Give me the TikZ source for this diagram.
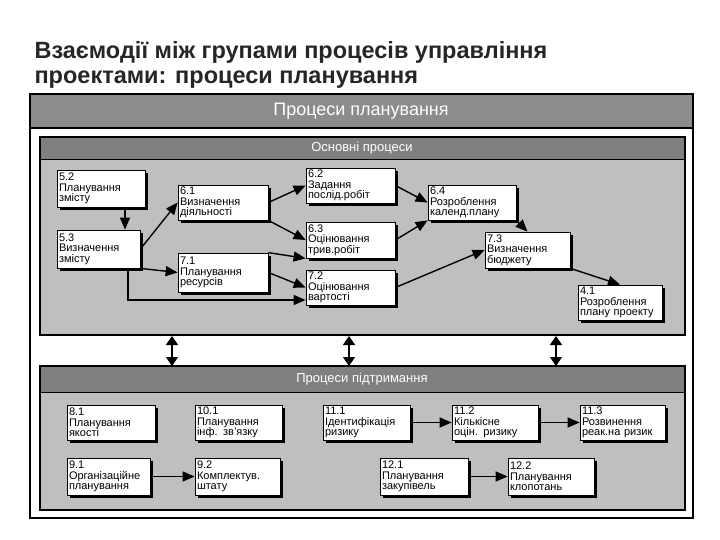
\documentclass[tikz,border=0pt]{standalone}
\usepackage{fontspec}
\setmainfont{Liberation Sans}
\usetikzlibrary{shadows,arrows.meta}
\begin{document}
\begin{tikzpicture}[x=1pt,y=-1pt,
 box/.style={draw=black,line width=0.8pt,fill=white,align=left,inner sep=2pt,font=\fontsize{11}{10.5}\selectfont,
   drop shadow={shadow xshift=3pt,shadow yshift=-3pt,fill=black,opacity=1}},
 arr/.style={line width=1.4pt,-{Triangle[length=12pt,width=10pt]}},
 darr/.style={line width=1.5pt,{Triangle[length=9pt,width=12pt]}-{Triangle[length=9pt,width=12pt]}},
 hdr/.style={text=white}]
\useasboundingbox (0,0) rectangle (720,540);
\fill[white] (0,0) rectangle (720,540);
\node[anchor=west,font=\bfseries\fontsize{23.5}{23.5}\selectfont,text=black!85] (t1) at (31,52) {Взаємодії між групами процесів управління};
\node[anchor=west,font=\bfseries\fontsize{23.5}{23.5}\selectfont,text=black!85] (t2) at (31,80) {проектами: процеси планування};
% outer frame
\draw[line width=1.2pt,fill=white] (30,94) rectangle (693,518);
\fill[black!45] (30,94) rectangle (693,128);
\draw[line width=1.2pt] (30,94) rectangle (693,128);
\node[hdr,font=\fontsize{18}{18}\selectfont] (h0) at (361,111) {Процеси планування};
% main panel
\draw[line width=1.5pt,fill=black!25] (40,137) rectangle (685,335);
\fill[black!50] (40,137) rectangle (685,160);
\draw[line width=1.5pt] (40,137) rectangle (685,335);
\draw[line width=1pt] (40,160) -- (685,160);
\node[hdr,font=\fontsize{13}{13}\selectfont] (h1) at (362,148.5) {Основні процеси};
% support panel
\draw[line width=1.5pt,fill=black!25] (40,366) rectangle (685,510);
\fill[black!50] (40,366) rectangle (685,392);
\draw[line width=1.5pt] (40,366) rectangle (685,510);
\draw[line width=1pt] (40,392) -- (685,392);
\node[hdr,font=\fontsize{13}{13}\selectfont] (h2) at (362,379) {Процеси підтримання};
% main nodes
\node[box,text width=84pt,minimum height=37pt] (a52) at (101,188.5) {5.2\\Планування\\змісту};
\node[box,text width=79pt,minimum height=38pt] (a53) at (98.5,249) {5.3\\Визначення\\змісту};
\node[box,text width=86pt,minimum height=35pt] (a61) at (223,202.5) {6.1\\Визначення\\діяльності};
\node[box,text width=86pt,minimum height=39pt] (a71) at (223,272.5) {7.1\\Планування\\ресурсів};
\node[box,text width=85pt,minimum height=35pt] (a62) at (350.5,185.5) {6.2\\Задання\\послід.робіт};
\node[box,text width=85pt,minimum height=36pt] (a63) at (350.5,240) {6.3\\Оцінювання\\трив.робіт};
\node[box,text width=85pt,minimum height=35pt] (a72) at (350.5,287.5) {7.2\\Оцінювання\\вартості};
\node[box,text width=84pt,minimum height=35pt] (a64) at (472,202.5) {6.4\\Розроблення\\календ.плану};
\node[box,text width=81pt,minimum height=36pt] (a73) at (527.5,250) {7.3\\Визначення\\бюджету};
\node[box,text width=80pt,minimum height=35pt] (a41) at (620,302.5) {4.1\\Розроблення\\плану проекту};
\coordinate (c1) at (128,300);
\draw[arr] (a52.south -| 125,0) -- (a53.north -| 125,0);
\draw[arr] (a53.east) -- (a61.west);
\draw[arr] (a53.south east) -- (a71.west);
\draw[arr] (a61.east) -- (a62.west);
\draw[arr] (a61.south east) -- (a63.west);
\draw[arr] (a71.north east) -- (a63.south west);
\draw[arr] (a71.east) -- (a72.west);
\draw[arr] (a53.south -| c1) -- (c1) -- (c1 -| a72.west);
\draw[arr] (a62.east) -- (a64.west);
\draw[arr] (a63.east) -- (a64.south west);
\draw[arr] (a64.south east) -- (a73.north);
\draw[arr] (a72.east) -- (a73.west);
\draw[arr] (a73.south east) -- (a41.north);
% double arrows
\coordinate (d1a) at (172,336); \coordinate (d1b) at (172,366);
\coordinate (d2a) at (349,336); \coordinate (d2b) at (349,366);
\coordinate (d3a) at (556,336); \coordinate (d3b) at (556,366);
\draw[darr] (d1a) -- (d1b);
\draw[darr] (d2a) -- (d2b);
\draw[darr] (d3a) -- (d3b);
% support nodes
\node[box,text width=84pt,minimum height=35pt] (b81) at (111,422.5) {8.1\\Планування\\якості};
\node[box,text width=83pt,minimum height=35pt] (b101) at (238.5,422.5) {10.1\\Планування\\інф. зв'язку};
\node[box,text width=83pt,minimum height=35pt] (b111) at (366.5,422.5) {11.1\\Ідентифікація\\ризику};
\node[box,text width=82pt,minimum height=35pt] (b112) at (495,422.5) {11.2\\Кількісне\\оцін. ризику};
\node[box,text width=81pt,minimum height=35pt] (b113) at (622.5,422.5) {11.3\\Розвинення\\реак.на ризик};
\node[box,text width=79pt,minimum height=37pt] (b91) at (108.5,476.5) {9.1\\Організаційне\\планування};
\node[box,text width=81pt,minimum height=37pt] (b92) at (237.5,476.5) {9.2\\Комплектув.\\штату};
\node[box,text width=84pt,minimum height=37pt] (b121) at (424,476.5) {12.1\\Планування\\закупівель};
\node[box,text width=82pt,minimum height=37pt] (b122) at (551,476.5) {12.2\\Планування\\клопотань};
\draw[arr] (b111) -- (b112);
\draw[arr] (b112) -- (b113);
\draw[arr] (b91) -- (b92);
\draw[arr] (b121) -- (b122);
\end{tikzpicture}
\end{document}
